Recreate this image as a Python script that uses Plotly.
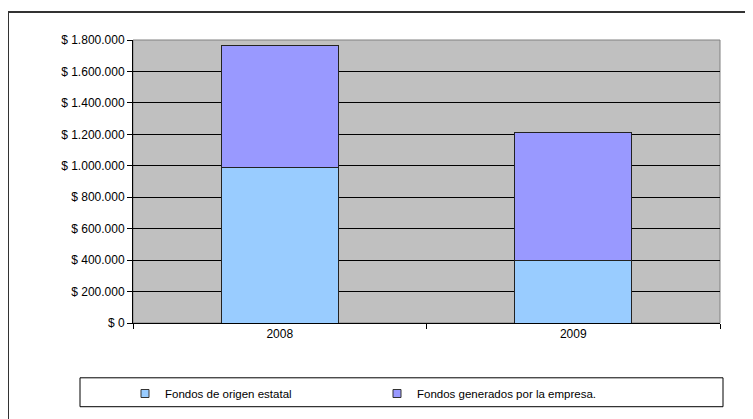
import plotly.graph_objects as go

years = ["2008", "2009"]
fondos_estatal = [986000, 395000]
fondos_empresa = [780000, 819000]
series_names = ["Fondos de origen estatal", "Fondos generados por la empresa."]
series_colors = ["#99CCFF", "#9999FF"]
tick_vals = [0, 200000, 400000, 600000, 800000, 1000000, 1200000, 1400000, 1600000, 1800000]
tick_text = ["$ 0", "$ 200.000", "$ 400.000", "$ 600.000", "$ 800.000", "$ 1.000.000",
             "$ 1.200.000", "$ 1.400.000", "$ 1.600.000", "$ 1.800.000"]

OFF = 8  # page body margin
W, H = 753 - OFF, 419 - OFF
# plot area in window pixels
L, R, T, B = 133, 720, 40, 324


def px_x(x):
    return (x - L) / (R - L)


def px_y(y):
    return (B - y) / (B - T)


fig = go.Figure()
for vals, name, col in zip([fondos_estatal, fondos_empresa], series_names, series_colors):
    fig.add_trace(go.Bar(x=years, y=vals, name=name, width=0.4,
                         marker=dict(color=col, line=dict(color="#222222", width=1)),
                         showlegend=False))
    fig.add_trace(go.Scatter(x=[None], y=[None], mode="markers", name=name,
                             marker=dict(symbol="square", size=8, color=col,
                                         line=dict(color="#333333", width=1))))

fig.update_layout(
    width=W, height=H,
    margin=dict(l=L - OFF, r=(W + OFF) - R, t=T - OFF, b=(H + OFF) - B, pad=0),
    paper_bgcolor="white",
    plot_bgcolor="#C0C0C0",
    barmode="stack",
    font=dict(family="Liberation Sans, Arial, sans-serif", size=12, color="black"),
    xaxis=dict(type="category", showgrid=False, showline=True, linecolor="black", linewidth=1,
               ticks="outside", ticklen=5, tickcolor="black", tickson="boundaries",
               tickfont=dict(size=12), fixedrange=True),
    yaxis=dict(range=[0, 1800000], tickvals=tick_vals, ticktext=tick_text,
               showgrid=True, gridcolor="black", gridwidth=1, zeroline=False,
               showline=True, linecolor="black", linewidth=1,
               ticks="outside", ticklen=5, tickcolor="black", tickfont=dict(size=12)),
    legend=dict(orientation="h", traceorder="normal", x=px_x(125), xanchor="left",
                y=px_y(393.5), yanchor="middle",
                bgcolor="rgba(0,0,0,0)", borderwidth=0, font=dict(size=11.5),
                entrywidth=207, entrywidthmode="pixels", itemwidth=30),
    shapes=[
        # plot area border (top/right)
        dict(type="rect", xref="paper", yref="paper", x0=0, x1=1, y0=0, y1=1,
             line=dict(color="#808080", width=1), layer="below"),
        # outer chart frame
        dict(type="rect", xref="paper", yref="paper", x0=px_x(8), x1=px_x(780), y0=px_y(450), y1=px_y(12),
             line=dict(color="#333333", width=2)),
        # legend box
        dict(type="rect", xref="paper", yref="paper", x0=px_x(80), x1=px_x(723), y0=px_y(408), y1=px_y(379),
             line=dict(color="black", width=1)),
    ],
)

fig.write_html("out.html")
